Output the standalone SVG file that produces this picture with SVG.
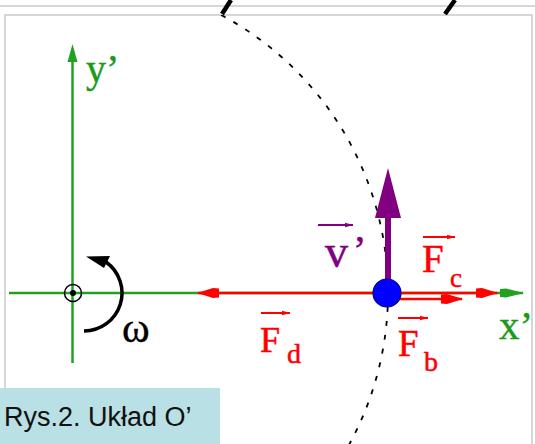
<svg xmlns="http://www.w3.org/2000/svg" width="535" height="444" viewBox="0 0 535 444">
<style>
  .serif{font-family:"Liberation Serif","Times New Roman",serif}
  .sans{font-family:"Liberation Sans",Arial,sans-serif}
  .red{fill:#ff0000;stroke:#ff0000;stroke-width:0.5}
  .green{fill:#1a9a1a;stroke:#1a9a1a;stroke-width:0.4}
  .purple{fill:#800080;stroke:#800080;stroke-width:0.5}
  .black{fill:#000000;stroke:#000;stroke-width:0.4}
  .frame{stroke:#d6d6d6;stroke-width:2;fill:none}
  .axis{stroke:#22a022;stroke-width:2.5;fill:none}
  .force{stroke:#ff0000;stroke-width:2.5;fill:none}
  .lblarrow{stroke:#ff0000;stroke-width:2;fill:none}
</style>
<defs>
  <marker id="arRed" markerUnits="userSpaceOnUse" markerWidth="22" markerHeight="12" viewBox="0 0 22 12" refX="21" refY="6" orient="auto-start-reverse">
    <path d="M0,1.5 L6,1 L22,6 L6,11 L0,10.5 Z" fill="#ff0000"/>
  </marker>
  <marker id="arGreen" markerUnits="userSpaceOnUse" markerWidth="24" markerHeight="12" viewBox="0 0 24 12" refX="23" refY="6" orient="auto">
    <path d="M0,2 L6,1.5 L24,6 L6,10.5 L0,10 Z" fill="#22a022"/>
  </marker>
  <marker id="arSmallRed" markerUnits="userSpaceOnUse" markerWidth="9" markerHeight="6" viewBox="0 0 9 6" refX="8.5" refY="3" orient="auto">
    <path d="M0,0.5 L9,3 L0,5.5 Z" fill="#ff0000"/>
  </marker>
  <marker id="arSmallPurple" markerUnits="userSpaceOnUse" markerWidth="9" markerHeight="6" viewBox="0 0 9 6" refX="8.5" refY="3" orient="auto">
    <path d="M0,0.5 L9,3 L0,5.5 Z" fill="#800080"/>
  </marker>
  <clipPath id="clipInside"><rect x="0" y="15" width="535" height="429"/></clipPath>
</defs>

<!-- frame -->
<g id="frame">
  <line x1="0" y1="6" x2="535" y2="6" class="frame"/>
  <path d="M5,444 V15 H532 V444" class="frame"/>
  <line x1="222" y1="14" x2="231" y2="0" stroke="#000" stroke-width="4.5"/>
  <line x1="445" y1="14" x2="455" y2="0" stroke="#000" stroke-width="4.5"/>
</g>

<!-- trajectory -->
<g id="trajectory" clip-path="url(#clipInside)">
  <circle cx="73" cy="293" r="315" fill="none" stroke="#000" stroke-width="1.8" stroke-dasharray="5 9"/>
</g>

<g id="connectors">
  <!-- axes -->
  <line x1="72.5" y1="363" x2="72.5" y2="60" class="axis"/>
  <polygon points="72.5,44 77.5,62 67.5,62" fill="#22a022"/>
  <line x1="9" y1="293" x2="523" y2="293" class="axis" marker-end="url(#arGreen)"/>
  <!-- forces -->
  <line x1="198" y1="293" x2="497" y2="293" class="force" marker-start="url(#arRed)" marker-end="url(#arRed)"/>
  <line x1="390" y1="299" x2="462" y2="299" class="force" marker-end="url(#arRed)"/>
  <!-- velocity -->
  <line x1="388" y1="282" x2="388" y2="214" stroke="#800080" stroke-width="6"/>
  <polygon points="388,168 401,218 375,218" fill="#800080"/>
  <!-- omega -->
  <path d="M84,331 A38,38 0 0 0 106,262" fill="none" stroke="#000" stroke-width="3.5"/>
  <polygon points="86,256.5 110,256 104,268" fill="#000"/>
</g>

<g id="origin">
  <circle cx="73" cy="293" r="8.5" fill="none" stroke="#000" stroke-width="1.5"/>
  <circle cx="73" cy="293" r="3" fill="#000"/>
</g>

<g id="ball">
  <circle cx="387" cy="293" r="14" fill="#0000ff" stroke="#00008b" stroke-width="1.2"/>
</g>

<g id="label-y">
  <text x="86" y="82" class="serif green" font-size="40">y’</text>
</g>
<g id="label-x">
  <text x="499" y="339" class="serif green" font-size="41">x’</text>
</g>
<g id="label-omega">
  <text x="122" y="342" class="serif black" font-size="42">ω</text>
</g>
<g id="label-v">
  <line x1="318" y1="225" x2="353" y2="225" stroke="#800080" stroke-width="2" marker-end="url(#arSmallPurple)"/>
  <text x="325" y="267" class="serif purple" font-size="46">v</text>
  <text x="353" y="263" class="serif purple" font-size="40">’</text>
</g>
<g id="label-Fc">
  <line x1="423" y1="237" x2="455" y2="237" class="lblarrow" marker-end="url(#arSmallRed)"/>
  <text x="422" y="272" class="serif red" font-size="39">F</text>
  <text x="450" y="287" class="serif red" font-size="27">c</text>
</g>
<g id="label-Fd">
  <line x1="261" y1="313" x2="290" y2="313" class="lblarrow" marker-end="url(#arSmallRed)"/>
  <text x="260" y="352" class="serif red" font-size="36">F</text>
  <text x="287" y="363" class="serif red" font-size="28">d</text>
</g>
<g id="label-Fb">
  <line x1="398" y1="318" x2="428" y2="318" class="lblarrow" marker-end="url(#arSmallRed)"/>
  <text x="398" y="356" class="serif red" font-size="37">F</text>
  <text x="424" y="371" class="serif red" font-size="28">b</text>
</g>

<g id="caption">
  <rect x="0" y="388" width="220" height="56" fill="#b9e0e4"/>
  <text x="4" y="426" class="sans" font-size="27" fill="#111">Rys.2. Układ O’</text>
</g>
</svg>
